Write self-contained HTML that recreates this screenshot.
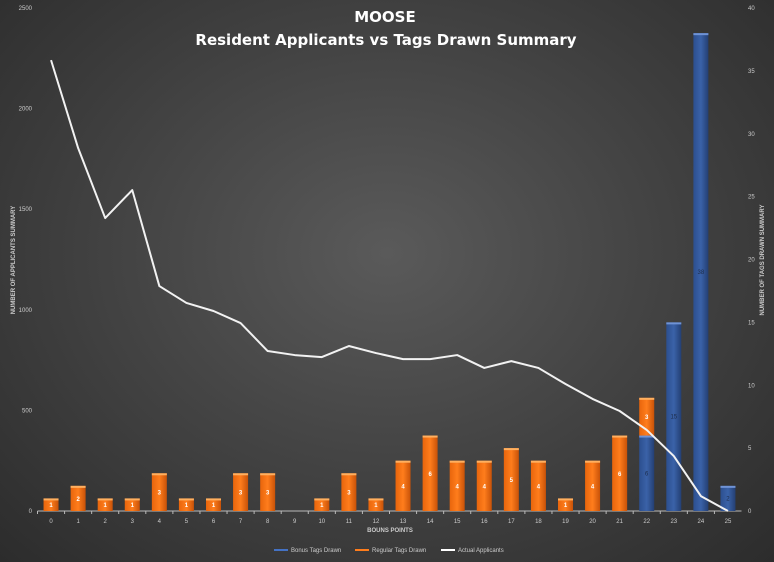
<!DOCTYPE html>
<html><head><meta charset="utf-8"><style>
html,body{margin:0;padding:0;}
body{width:774px;height:562px;overflow:hidden;background:radial-gradient(ellipse at 50% 45%,#5a5a5a 0%,#454545 45%,#2c2c2c 100%);font-family:"Liberation Sans",sans-serif;}
svg{display:block}
</style></head><body>
<svg id="chart" width="774" height="562" xmlns="http://www.w3.org/2000/svg">
<defs>
<linearGradient id="og" x1="0" x2="1"><stop offset="0" stop-color="#e8650c"/><stop offset="0.5" stop-color="#ff7d1c"/><stop offset="1" stop-color="#c85208"/></linearGradient>
<linearGradient id="bg" x1="0" x2="1"><stop offset="0" stop-color="#2c4f8f"/><stop offset="0.5" stop-color="#3a62a8"/><stop offset="1" stop-color="#243f73"/></linearGradient>
</defs>
<text x="385" y="22" text-anchor="middle" fill="#fff" font-size="15" font-weight="bold" font-family="DejaVu Sans, sans-serif">MOOSE</text>
<text x="386" y="45" text-anchor="middle" fill="#fff" font-size="15" font-weight="bold" font-family="DejaVu Sans, sans-serif">Resident Applicants vs Tags Drawn Summary</text>
<g id="plot"></g>
<text x="390" y="532" text-anchor="middle" fill="#ccc" font-size="6" font-weight="bold">BOUNS POINTS</text>
<text transform="translate(15,260) rotate(-90)" text-anchor="middle" fill="#ccc" font-size="6" font-weight="bold">NUMBER OF APPLICANTS SUMMARY</text>
<text transform="translate(764,260) rotate(-90)" text-anchor="middle" fill="#ccc" font-size="6" font-weight="bold">NUMBER OF TAGS DRAWN SUMMARY</text>
<g font-size="6" fill="#ccc">
<g><rect x="274" y="549" width="14" height="2" fill="#4472c4"/><text x="291" y="552">Bonus Tags Drawn</text></g>
<g><rect x="355" y="549" width="14" height="2" fill="#ff7d1c"/><text x="372" y="552">Regular Tags Drawn</text></g>
<g><rect x="441" y="549" width="14" height="2" fill="#fff"/><text x="458" y="552">Actual Applicants</text></g>
</g>
</svg>
<script>
const categories=["0","1","2","3","4","5","6","7","8","9","10","11","12","13","14","15","16","17","18","19","20","21","22","23","24","25"];
const regularTags=[1,2,1,1,3,1,1,3,3,0,1,3,1,4,6,4,4,5,4,1,4,6,3,0,0,0];
const bonusTags=[0,0,0,0,0,0,0,0,0,0,0,0,0,0,0,0,0,0,0,0,0,0,6,15,38,2];
const applicants=[2241,1804,1456,1595,1118,1034,994,934,795,775,765,820,785,755,755,775,711,745,711,631,557,497,403,273,74,0];
const leftTicks=[0,500,1000,1500,2000,2500];
const rightTicks=[0,5,10,15,20,25,30,35,40];

const NS="http://www.w3.org/2000/svg";
const g=document.getElementById('plot');
const X0=37.5,X1=741.5,Y0=511,Y1=8;
const band=(X1-X0)/categories.length;
const xc=i=>X0+band*(i+0.5);
const yL=v=>Y0-(v/2500)*(Y0-Y1);
const yR=v=>Y0-(v/40)*(Y0-Y1);
function mk(t,a){const e=document.createElementNS(NS,t);for(const k in a)e.setAttribute(k,a[k]);g.appendChild(e);return e;}
leftTicks.forEach(v=>{const t=mk('text',{x:32,y:yL(v)+2,'text-anchor':'end',fill:'#ccc','font-size':6});t.textContent=v;

});
rightTicks.forEach(v=>{const t=mk('text',{x:748,y:yR(v)+2,fill:'#ccc','font-size':6});t.textContent=v;

});
const ax=mk('line',{x1:X0,x2:X1,y1:Y0,y2:Y0,stroke:'#bbb','stroke-width':1});


categories.forEach((c,i)=>{
 const tk=mk('line',{x1:X0+band*i,x2:X0+band*i,y1:Y0,y2:Y0+3,stroke:'#bbb'});
 
 
 const t=mk('text',{x:xc(i),y:Y0+12,'text-anchor':'middle',fill:'#ccc','font-size':6});t.textContent=c;
 
 
});
const bw=15;
categories.forEach((c,i)=>{
 const b=bonusTags[i],r=regularTags[i];
 if(b>0){const top=yR(b);
  const rc=mk('rect',{x:xc(i)-bw/2,y:top,width:bw,height:Y0-top,fill:'url(#bg)'});
  
  
  mk('rect',{x:xc(i)-bw/2,y:top,width:bw,height:2,fill:'#6f93d6'});
  const t=mk('text',{x:xc(i),y:(top+Y0)/2+2,'text-anchor':'middle',fill:'#1d2c4a','font-size':6});t.textContent=b;
  
  }
 if(r>0){const base=yR(b),top=yR(b+r);
  const rc=mk('rect',{x:xc(i)-bw/2,y:top,width:bw,height:base-top,fill:'url(#og)'});
  
  
  mk('rect',{x:xc(i)-bw/2,y:top,width:bw,height:2,fill:'#ffb060'});
  const t=mk('text',{x:xc(i),y:(top+base)/2+2.5,'text-anchor':'middle',fill:'#fff','font-size':6,'font-weight':'bold'});t.textContent=r;
  
  }
});
const pts=applicants.map((v,i)=>xc(i)+','+yL(v)).join(' ');
const ln=mk('polyline',{points:pts,fill:'none',stroke:'#f2f2f2','stroke-width':2,'stroke-linejoin':'round'});


</script>
</body></html>
